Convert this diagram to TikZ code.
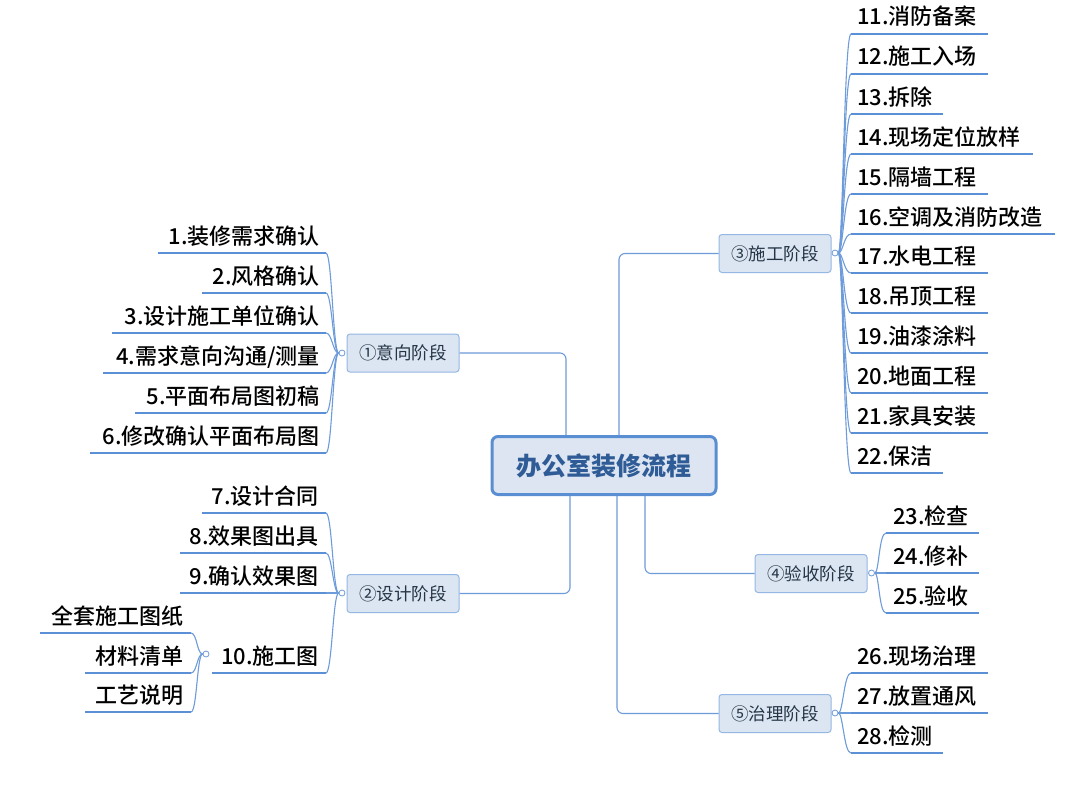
\documentclass[tikz,border=0pt]{standalone}
\usepackage{fontspec}
\setmainfont{Noto Sans CJK SC}
\newfontfamily\medfont{Noto Sans CJK SC Medium}
\definecolor{connc}{HTML}{6E9BDA}
\definecolor{ulc}{HTML}{5B8FD6}
\definecolor{bfill}{HTML}{DCE6F2}
\definecolor{bdraw}{HTML}{94B7E4}
\definecolor{tdraw}{HTML}{5A8ED2}
\definecolor{tfill}{HTML}{DCE5F1}
\definecolor{ttext}{HTML}{2F5C96}
\definecolor{btext}{HTML}{253545}
\tikzset{
  connline/.style={draw=connc, line width=1.1pt},
  mainline/.style={draw=connc, line width=1.1pt, rounded corners=6pt},
  underl/.style={draw=ulc, line width=1.7pt},
  leaf/.style={font=\medfont\fontsize{22}{22}\selectfont, text=black, inner sep=0pt},
  branch/.style={draw=bdraw, fill=bfill, rounded corners=3pt, minimum width=112pt,
    minimum height=38pt, inner sep=0pt, font=\fontsize{17.5}{18}\selectfont, text=btext, line width=1pt},
  titlebox/.style={draw=tdraw, fill=tfill, rounded corners=6pt, minimum width=224pt,
    minimum height=58pt, inner sep=0pt, line width=3pt, font=\bfseries\fontsize{25}{25}\selectfont, text=ttext},
  knob/.style={circle, draw=connc, fill=white, minimum size=6pt, inner sep=0pt, line width=0.8pt}
}
\begin{document}
\begin{tikzpicture}[x=1pt,y=-1pt]
\useasboundingbox (0,0) rectangle (1078,792);
\fill[white] (0,0) rectangle (1078,792);

% central topic
\node[titlebox] (title) at (604,465.5) {办公室装修流程};

% branches
\node[branch] (b1) at (403,353) {①意向阶段};
\node[branch] (b2) at (403,593.5) {②设计阶段};
\node[branch] (b3) at (775,253.5) {③施工阶段};
\node[branch] (b4) at (811,573.5) {④验收阶段};
\node[branch] (b5) at (775,713.5) {⑤治理阶段};

\coordinate (j1) at (566,0);
\coordinate (j2) at (570,0);
\coordinate (j3) at (619,0);
\coordinate (j4) at (645,0);
\coordinate (j5) at (617,0);
\draw[mainline] (b1.east) -| (title.north -| j1);
\draw[mainline] (b2.east) -| (title.south -| j2);
\draw[mainline] (b3.west) -| (title.north -| j3);
\draw[mainline] (b4.west) -| (title.south -| j4);
\draw[mainline] (b5.west) -| (title.south -| j5);

% knobs
\node[knob] (k1) at (342,353) {};
\node[knob] (k2) at (342,593) {};
\node[knob] (k3) at (835,253) {};
\node[knob] (k4) at (871.5,573) {};
\node[knob] (k5) at (835,713) {};
\node[knob] (k10) at (206,654) {};

% branch 1 leaves (left)
\foreach \t/\y/\xs [count=\i] in {1.装修需求确认/253/158, 2.风格确认/293/202, 3.设计施工单位确认/333/112,
   {4.需求意向沟通/测量}/373/103, 5.平面布局图初稿/413/135, 6.修改确认平面布局图/453/90}{
  \node[leaf, anchor=base east] (La\i) at (320,\y-9) {\t};
  \draw[underl] (\xs,\y) -- (326,\y);
  \draw[connline] (k1.west) .. controls (333,353) and (332,\y) .. (326,\y);
}

% branch 2 leaves (left)
\foreach \t/\y/\xs [count=\i] in {7.设计合同/513/202, 8.效果图出具/553/180, 9.确认效果图/593/180, 10.施工图/673/212}{
  \node[leaf, anchor=base east] (Lb\i) at (319,\y-9) {\t};
  \draw[underl] (\xs,\y) -- (326,\y);
  \draw[connline] (k2.west) .. controls (333,593) and (332,\y) .. (326,\y);
}

% sub-leaves of 10
\foreach \t/\y/\xs [count=\i] in {全套施工图纸/633/40, 材料清单/673/85, 工艺说明/712/85}{
  \node[leaf, anchor=base east] (Lc\i) at (184,\y-9) {\t};
  \draw[underl] (\xs,\y) -- (191,\y);
  \draw[connline] (k10.west) .. controls (197,654) and (197,\y) .. (191,\y);
}

% branch 3 leaves (right)
\foreach \t/\y/\xe [count=\i] in {11.消防备案/34/988, 12.施工入场/74/988, 13.拆除/114/943, 14.现场定位放样/154/1033,
   15.隔墙工程/194/988, 16.空调及消防改造/234/1055, 17.水电工程/273/988, 18.吊顶工程/313/988,
   19.油漆涂料/353/988, 20.地面工程/393/988, 21.家具安装/433/988, 22.保洁/473/943}{
  \node[leaf, anchor=base west] (Ld\i) at (857,\y-9) {\t};
  \draw[underl] (851,\y) -- (\xe,\y);
  \draw[connline] (k3.east) .. controls (843,253) and (844,\y) .. (851,\y);
}

% branch 4 leaves (right)
\foreach \t/\y/\xe [count=\i] in {23.检查/533/979, 24.修补/573/979, 25.验收/613/979}{
  \node[leaf, anchor=base west] (Le\i) at (893,\y-9) {\t};
  \draw[underl] (886,\y) -- (\xe,\y);
  \draw[connline] (k4.east) .. controls (879,573) and (879,\y) .. (886,\y);
}

% branch 5 leaves (right)
\foreach \t/\y/\xe [count=\i] in {26.现场治理/673/988, 27.放置通风/713/988, 28.检测/753/943}{
  \node[leaf, anchor=base west] (Lf\i) at (857,\y-9) {\t};
  \draw[underl] (851,\y) -- (\xe,\y);
  \draw[connline] (k5.east) .. controls (843,713) and (844,\y) .. (851,\y);
}
\end{tikzpicture}
\end{document}
